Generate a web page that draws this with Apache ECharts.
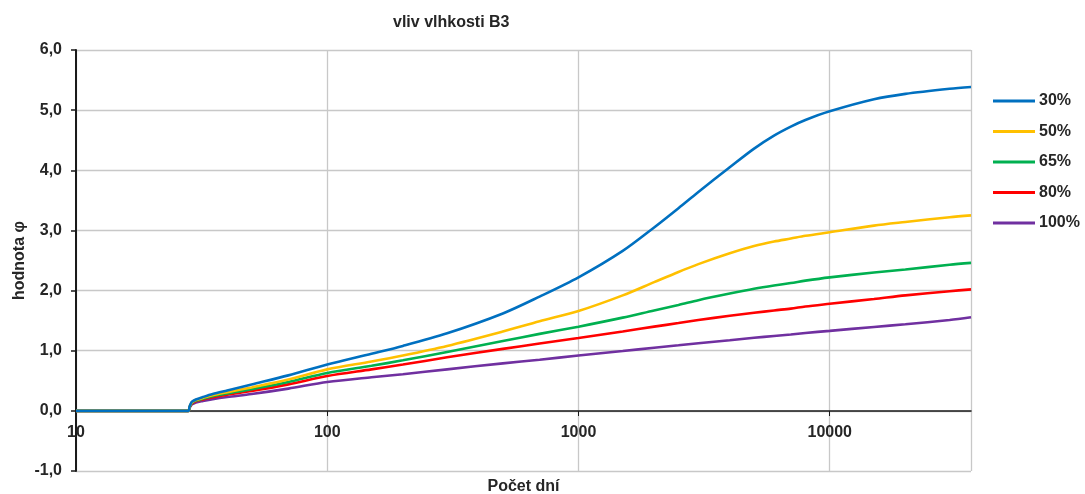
<!DOCTYPE html>
<html>
<head>
<meta charset="utf-8">
<script src="https://cdn.jsdelivr.net/npm/echarts@6/dist/echarts.min.js"></script>
<style>
html,body{margin:0;padding:0;background:#fff;}
#chart{width:1085px;height:494px;}
</style>
</head>
<body>
<div id="chart"></div>
<script>
// Days (log x axis)
var days = [10, 28, 28.3, 28.7, 29, 30, 32, 35, 40, 50, 70, 100, 150, 200, 300, 500, 700, 1000, 1500, 2000, 2500, 3000, 4000, 5000, 6000, 7000, 8000, 10000, 15000, 20000, 30000, 36500];
var seriesNames = ['30%', '50%', '65%', '80%', '100%'];
var v30  = [0, 0, 0.07, 0.13, 0.155, 0.19, 0.23, 0.28, 0.34, 0.44, 0.59, 0.77, 0.95, 1.08, 1.29, 1.62, 1.90, 2.22, 2.66, 3.05, 3.37, 3.64, 4.05, 4.36, 4.575, 4.725, 4.835, 4.98, 5.18, 5.27, 5.355, 5.385];
var v50  = [0, 0, 0.065, 0.12, 0.145, 0.18, 0.215, 0.26, 0.31, 0.39, 0.52, 0.69, 0.82, 0.92, 1.08, 1.32, 1.49, 1.66, 1.92, 2.14, 2.31, 2.44, 2.62, 2.74, 2.815, 2.865, 2.91, 2.97, 3.08, 3.14, 3.22, 3.25];
var v65  = [0, 0, 0.06, 0.11, 0.135, 0.17, 0.20, 0.245, 0.29, 0.36, 0.48, 0.63, 0.75, 0.84, 0.98, 1.16, 1.28, 1.40, 1.55, 1.67, 1.76, 1.84, 1.95, 2.03, 2.085, 2.125, 2.165, 2.22, 2.30, 2.35, 2.43, 2.46];
var v80  = [0, 0, 0.055, 0.10, 0.125, 0.16, 0.19, 0.225, 0.27, 0.33, 0.44, 0.58, 0.69, 0.77, 0.89, 1.03, 1.12, 1.21, 1.32, 1.40, 1.46, 1.51, 1.58, 1.63, 1.67, 1.70, 1.735, 1.78, 1.86, 1.92, 1.99, 2.02];
var v100 = [0, 0, 0.05, 0.09, 0.11, 0.14, 0.165, 0.195, 0.23, 0.28, 0.37, 0.48, 0.56, 0.61, 0.69, 0.79, 0.85, 0.92, 0.995, 1.05, 1.09, 1.125, 1.175, 1.215, 1.245, 1.27, 1.295, 1.33, 1.395, 1.44, 1.51, 1.555];
var colors = ['#0070C0', '#FFC000', '#00B050', '#FF0000', '#7030A0'];
var allValues = [v30, v50, v65, v80, v100];

var FONT = '"Liberation Sans", Arial, sans-serif';
var TXT = '#262626';

function pairs(vals) {
  return days.map(function (d, i) { return [d, vals[i]]; });
}

var series = seriesNames.map(function (n, k) {
  return {
    name: n,
    type: 'line',
    data: pairs(allValues[k]),
    symbol: 'none',
    smooth: 0.3,
    color: colors[k],
    lineStyle: { width: 2.6, color: colors[k] },
    itemStyle: { color: colors[k] },
    z: 10 - k
  };
});

var chart = echarts.init(document.getElementById('chart'), null, { renderer: 'canvas' });
chart.setOption({
  animation: false,
  backgroundColor: '#fff',
  title: {
    text: 'vliv vlhkosti B3',
    left: 388,
    top: 10,
    textStyle: { fontFamily: FONT, fontSize: 16, fontWeight: 'bold', color: TXT }
  },
  legend: {
    orient: 'vertical',
    left: 988,
    top: 87,
    icon: 'rect',
    itemWidth: 42,
    itemHeight: 3,
    itemGap: 12.5,
    textStyle: { fontFamily: FONT, fontSize: 16, fontWeight: 'bold', color: TXT, padding: [0, 0, 0, -1], lineHeight: 18 },
    data: seriesNames
  },
  grid: { left: 76, right: 114, top: 50, bottom: 23, containLabel: false, outerBoundsMode: 'none' },
  xAxis: {
    type: 'log',
    logBase: 10,
    min: 10,
    max: 36500,
    offset: -60,
    name: 'Počet dní',
    nameLocation: 'middle',
    nameGap: 68,
    nameMoveOverlap: false,
    nameTextStyle: { fontFamily: FONT, fontSize: 16, fontWeight: 'bold', color: TXT },
    axisLine: { onZero: false, lineStyle: { color: '#1a1a1a', width: 1.5 } },
    axisTick: { show: true, inside: false, length: 5, lineStyle: { color: '#1a1a1a' } },
    minorTick: { show: false },
    axisLabel: {
      fontFamily: FONT, fontSize: 16, fontWeight: 'bold', color: TXT, margin: 14,
      showMaxLabel: false,
      formatter: function (v) { return String(Math.round(v)); }
    },
    splitLine: { show: true, lineStyle: { color: '#c8c8c8', width: 1.3 } }
  },
  yAxis: {
    type: 'value',
    min: -1,
    max: 6,
    interval: 1,
    name: 'hodnota φ',
    nameLocation: 'middle',
    nameGap: 48,
    nameMoveOverlap: false,
    nameTextStyle: { fontFamily: FONT, fontSize: 16, fontWeight: 'bold', color: TXT },
    axisLine: { show: true, lineStyle: { color: '#1a1a1a', width: 2 } },
    axisTick: { show: true, inside: false, length: 5, lineStyle: { color: '#1a1a1a', width: 1.5 } },
    axisLabel: {
      fontFamily: FONT, fontSize: 16, fontWeight: 'bold', color: TXT, margin: 14,
      formatter: function (v) { return v.toFixed(1).replace('.', ','); }
    },
    splitLine: { show: true, lineStyle: { color: '#c8c8c8', width: 1.3 } }
  },
  series: series
});
</script>
</body>
</html>
